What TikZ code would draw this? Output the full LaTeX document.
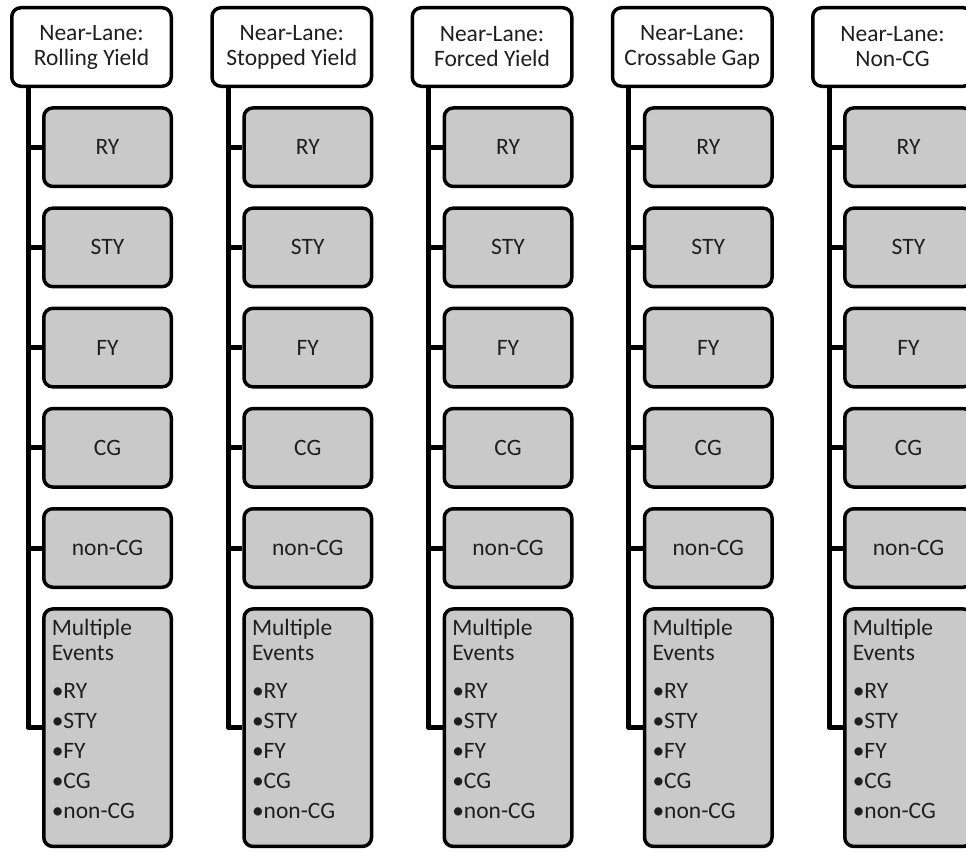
\documentclass[tikz,border=0pt]{standalone}
\usepackage{fontspec}
\setmainfont{Carlito}
\usetikzlibrary{positioning}
\definecolor{boxgray}{RGB}{201,201,201}

\begin{document}
\begin{tikzpicture}[
x=1pt, y=1pt,
node distance=18.2pt,
every node/.style={font=\fontsize{23.5}{25}\selectfont, text=black!88},
head/.style={draw, line width=3.5pt, rounded corners=9pt, fill=white, align=center, minimum width=159.5pt, minimum height=78.5pt, inner sep=2pt},
kid/.style={head, fill=boxgray, minimum width=127.5pt},
multi/.style={kid, minimum height=237.5pt, align=left, inner xsep=8pt, text width=111.5pt, text depth=201pt},
trunk/.style={line width=5pt, line join=round}
]
\useasboundingbox (0,0) rectangle (966,-851);
\clip (0,0) rectangle (966,-851);
\foreach \i/\lbl in {1/{Near-Lane:\\Rolling Yield}, 2/{Near-Lane:\\Stopped Yield}, 3/{Near-Lane:\\Forced Yield}, 4/{Near-Lane:\\Crossable Gap}, 5/{Near-Lane:\\Non-CG}} {
  \node[head, anchor=north west] (h\i) at ({10+200.25*(\i-1)},-6) {\lbl};
  \node[kid, below=of h\i.south east, anchor=north east] (ry\i) {RY};
  \node[kid, below=of ry\i] (sty\i) {STY};
  \node[kid, below=of sty\i] (fy\i) {FY};
  \node[kid, below=of fy\i] (cg\i) {CG};
  \node[kid, below=of cg\i] (ncg\i) {non-CG};
  \node[multi, below=of ncg\i] (me\i) {Multiple\\Events\\[13pt]\textbullet RY\\[5pt]\textbullet STY\\[5pt]\textbullet FY\\[5pt]\textbullet CG\\[5pt]\textbullet non-CG};
  % trunk and branches
  \coordinate (t\i) at ([xshift=18pt]h\i.south west);
  \draw[trunk] (t\i) |- (me\i.west);
  \foreach \k in {ry,sty,fy,cg,ncg}
    \draw[trunk] (t\i |- \k\i.west) -- (\k\i.west);
}
\end{tikzpicture}
\end{document}
